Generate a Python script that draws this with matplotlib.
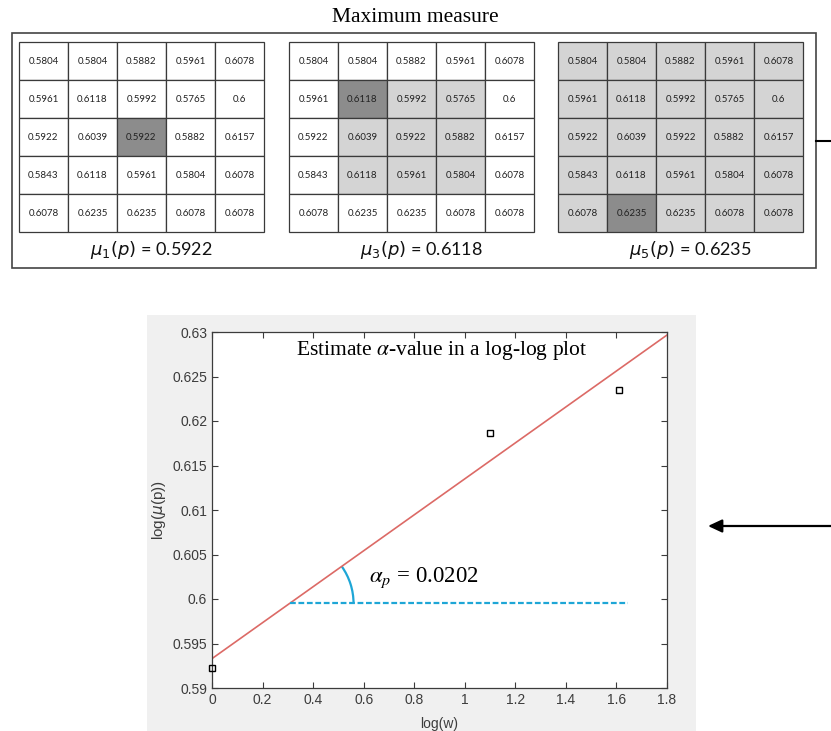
import matplotlib.pyplot as plt
import numpy as np
from matplotlib.patches import Rectangle, Arc
from matplotlib.ticker import FuncFormatter, MultipleLocator

# 5x5 window of pixel values around p
window = [
    [0.5804, 0.5804, 0.5882, 0.5961, 0.6078],
    [0.5961, 0.6118, 0.5992, 0.5765, 0.6],
    [0.5922, 0.6039, 0.5922, 0.5882, 0.6157],
    [0.5843, 0.6118, 0.5961, 0.5804, 0.6078],
    [0.6078, 0.6235, 0.6235, 0.6078, 0.6078],
]
# window sizes, position of the max in each window, and resulting measure
sizes = [1, 3, 5]
max_cells = [(2, 2), (1, 1), (4, 1)]
mu_values = [0.5922, 0.6118, 0.6235]

# log-log points
log_w = [0.0, 1.0986, 1.6094]
log_mu = [0.5922, 0.6187, 0.6235]

# fitted line
alpha_p = 0.0202
intercept = 0.5933
fit_x = [0.0, 1.8]
ref_y = 0.5995  # horizontal reference (dashed)
ref_x_end = 1.645

fig = plt.figure(figsize=(8.31, 7.31), dpi=100)

# layout layer in pixel coordinates
ax0 = fig.add_axes([0, 0, 1, 1])
ax0.set_xlim(0, 831)
ax0.set_ylim(731, 0)
ax0.axis("off")

ax0.text(415, 17, "Maximum measure", ha="center", va="center",
         fontsize=15.5, family="Liberation Serif")
ax0.add_patch(Rectangle((12, 33), 804, 235, fill=False, edgecolor="#444444", lw=1.2))

grid_x0 = [19, 289, 558]
cw, ch = 49, 38
gy0 = 42
light, dark = "#d4d4d4", "#8c8c8c"
for k, s in enumerate(sizes):
    cr, cc = max_cells[k]
    half = s // 2
    for i in range(5):
        for j in range(5):
            if (i, j) == (cr, cc):
                fc = dark
            elif abs(i - 2) <= half and abs(j - 2) <= half:
                fc = light
            else:
                fc = "white"
            ax0.add_patch(Rectangle((grid_x0[k] + j * cw, gy0 + i * ch), cw, ch,
                                    facecolor=fc, edgecolor="#3a3a3a", lw=0.9))
            ax0.text(grid_x0[k] + j * cw + cw / 2, gy0 + i * ch + ch / 2 + 0.5,
                     f"{window[i][j]:g}", ha="center", va="center",
                     fontsize=7, family="Lato", color="#222222")
    ax0.text(grid_x0[k] + 5 * cw / 2 + 10, 250,
             rf"$\mu_{s}(p)$ = {mu_values[k]:g}", ha="center", va="center",
             fontsize=13, family="Lato", math_fontfamily="dejavusans", color="#111111")

# arrows
ax0.plot([816, 831], [141, 141], color="black", lw=1.5)
ax0.annotate("", xy=(708, 526), xytext=(831, 526),
             arrowprops=dict(arrowstyle="-|>,head_length=0.6,head_width=0.28",
                             mutation_scale=14, color="black", lw=1.6,
                             shrinkA=0, shrinkB=0))

# grey figure background of the plot
ax0.add_patch(Rectangle((147, 315), 549, 416, facecolor="#f0f0f0", edgecolor="none"))

# log-log plot
ax = fig.add_axes([212 / 831, 1 - 688 / 731, 455 / 831, 356 / 731])
ax.set_facecolor("white")
fit_y = [intercept + alpha_p * x for x in fit_x]
ax.plot(fit_x, fit_y, color="#dc6a66", lw=1.2, zorder=2)
ax.plot(log_w, log_mu, linestyle="none", marker="s", markersize=5,
        markerfacecolor="none", markeredgecolor="black", markeredgewidth=1.0,
        clip_on=False, zorder=3)

x_cross = (ref_y - intercept) / alpha_p
ax.plot([x_cross, ref_x_end], [ref_y, ref_y], color="#1ea6d6", lw=1.6,
        dashes=(2.6, 1.2))
ax.add_patch(Arc((x_cross, ref_y), 0.506, 0.01438, theta1=0,
                 theta2=np.degrees(np.arctan(alpha_p)), color="#1ea6d6", lw=1.6))

ax.text(0.91, 0.6279, r"Estimate $\alpha$-value in a log-log plot", ha="center",
        va="center", fontsize=15.5, family="Liberation Serif", math_fontfamily="stix")
ax.text(0.62, 0.6024, r"$\alpha_p$ = 0.0202", ha="left", va="center",
        fontsize=16.5, family="Liberation Serif", math_fontfamily="stix")

ax.set_xlim(0, 1.8)
ax.set_ylim(0.59, 0.63)
ax.xaxis.set_major_locator(MultipleLocator(0.2))
ax.yaxis.set_major_locator(MultipleLocator(0.005))
fmt = FuncFormatter(lambda v, pos: f"{round(v, 4):g}")
ax.xaxis.set_major_formatter(fmt)
ax.yaxis.set_major_formatter(fmt)
ax.tick_params(direction="in", top=True, right=True, length=4, width=0.8,
               colors="#3c3c3c", labelsize=10)
for sp in ax.spines.values():
    sp.set_color("#3c3c3c")
    sp.set_linewidth(0.9)
for lab in ax.get_xticklabels() + ax.get_yticklabels():
    lab.set_family("Liberation Sans")
ax.set_xlabel("log(w)", fontsize=10, family="Liberation Sans", color="#3c3c3c", labelpad=7)
ax.set_ylabel(r"log($\mu$(p))", fontsize=11, family="Liberation Sans",
              color="#3c3c3c", labelpad=3)

fig.savefig("out.png", dpi=100)
